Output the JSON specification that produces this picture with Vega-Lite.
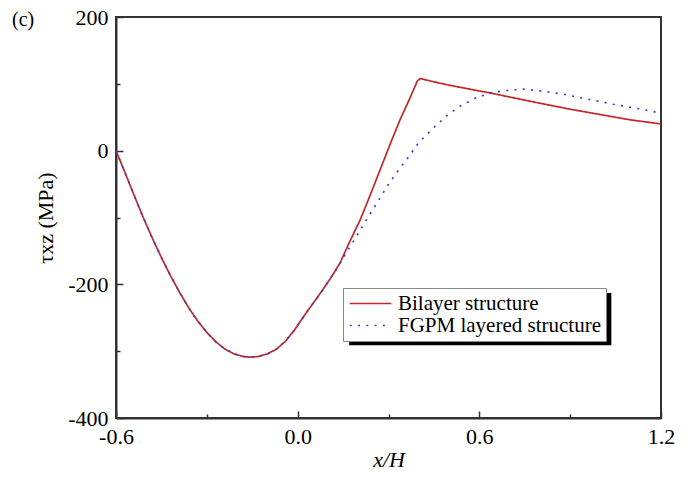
{
  "$schema": "https://vega.github.io/schema/vega-lite/v6.json",
  "width": 545,
  "height": 401,
  "autosize": "none",
  "padding": {"left": 116, "top": 17, "right": 30, "bottom": 59},
  "background": "white",
  "title": {"text": "(c)", "anchor": "start", "frame": "group", "orient": "top", "offset": 0, "dx": -104, "dy": 40, "baseline": "alphabetic", "font": "Liberation Serif", "fontSize": 20, "fontWeight": "normal", "color": "black"},
  "config": {"view": {"stroke": "#333", "strokeWidth": 2}, "axis": {"grid": false}},
  "layer": [
    {
      "data": {"values": [{"k": "shadow"}]},
      "mark": {"type": "rect", "color": "black"},
      "encoding": {
        "x": {"datum": 0.17, "type": "quantitative"},
        "x2": {"datum": 1.036},
        "y": {"datum": -213, "type": "quantitative"},
        "y2": {"datum": -291}
      }
    },
    {
      "data": {"values": [
        {"s": "Bilayer structure", "x": -0.6, "y": 0},
        {"s": "Bilayer structure", "x": -0.57, "y": -33},
        {"s": "Bilayer structure", "x": -0.54, "y": -67},
        {"s": "Bilayer structure", "x": -0.51, "y": -100},
        {"s": "Bilayer structure", "x": -0.48, "y": -131},
        {"s": "Bilayer structure", "x": -0.45, "y": -160},
        {"s": "Bilayer structure", "x": -0.42, "y": -187},
        {"s": "Bilayer structure", "x": -0.39, "y": -212},
        {"s": "Bilayer structure", "x": -0.36, "y": -235},
        {"s": "Bilayer structure", "x": -0.33, "y": -255},
        {"s": "Bilayer structure", "x": -0.30, "y": -272},
        {"s": "Bilayer structure", "x": -0.27, "y": -286},
        {"s": "Bilayer structure", "x": -0.24, "y": -297},
        {"s": "Bilayer structure", "x": -0.21, "y": -304},
        {"s": "Bilayer structure", "x": -0.18, "y": -308},
        {"s": "Bilayer structure", "x": -0.157, "y": -309},
        {"s": "Bilayer structure", "x": -0.13, "y": -308},
        {"s": "Bilayer structure", "x": -0.10, "y": -304},
        {"s": "Bilayer structure", "x": -0.07, "y": -297},
        {"s": "Bilayer structure", "x": -0.04, "y": -285},
        {"s": "Bilayer structure", "x": -0.01, "y": -268},
        {"s": "Bilayer structure", "x": 0.02, "y": -248},
        {"s": "Bilayer structure", "x": 0.05, "y": -229},
        {"s": "Bilayer structure", "x": 0.08, "y": -210},
        {"s": "Bilayer structure", "x": 0.11, "y": -190},
        {"s": "Bilayer structure", "x": 0.14, "y": -168},
        {"s": "Bilayer structure", "x": 0.17, "y": -138},
        {"s": "Bilayer structure", "x": 0.206, "y": -104},
        {"s": "Bilayer structure", "x": 0.24, "y": -66},
        {"s": "Bilayer structure", "x": 0.272, "y": -29},
        {"s": "Bilayer structure", "x": 0.31, "y": 15},
        {"s": "Bilayer structure", "x": 0.338, "y": 46},
        {"s": "Bilayer structure", "x": 0.37, "y": 78},
        {"s": "Bilayer structure", "x": 0.395, "y": 104},
        {"s": "Bilayer structure", "x": 0.405, "y": 108},
        {"s": "Bilayer structure", "x": 0.45, "y": 103},
        {"s": "Bilayer structure", "x": 0.50, "y": 98},
        {"s": "Bilayer structure", "x": 0.558, "y": 93},
        {"s": "Bilayer structure", "x": 0.65, "y": 85},
        {"s": "Bilayer structure", "x": 0.778, "y": 73},
        {"s": "Bilayer structure", "x": 0.90, "y": 62},
        {"s": "Bilayer structure", "x": 1.0, "y": 54},
        {"s": "Bilayer structure", "x": 1.1, "y": 46},
        {"s": "Bilayer structure", "x": 1.2, "y": 40},
        {"s": "FGPM layered structure", "x": -0.6, "y": 0},
        {"s": "FGPM layered structure", "x": -0.57, "y": -33},
        {"s": "FGPM layered structure", "x": -0.54, "y": -67},
        {"s": "FGPM layered structure", "x": -0.51, "y": -100},
        {"s": "FGPM layered structure", "x": -0.48, "y": -131},
        {"s": "FGPM layered structure", "x": -0.45, "y": -160},
        {"s": "FGPM layered structure", "x": -0.42, "y": -187},
        {"s": "FGPM layered structure", "x": -0.39, "y": -212},
        {"s": "FGPM layered structure", "x": -0.36, "y": -235},
        {"s": "FGPM layered structure", "x": -0.33, "y": -255},
        {"s": "FGPM layered structure", "x": -0.30, "y": -272},
        {"s": "FGPM layered structure", "x": -0.27, "y": -286},
        {"s": "FGPM layered structure", "x": -0.24, "y": -297},
        {"s": "FGPM layered structure", "x": -0.21, "y": -304},
        {"s": "FGPM layered structure", "x": -0.18, "y": -308},
        {"s": "FGPM layered structure", "x": -0.157, "y": -309},
        {"s": "FGPM layered structure", "x": -0.13, "y": -308},
        {"s": "FGPM layered structure", "x": -0.10, "y": -304},
        {"s": "FGPM layered structure", "x": -0.07, "y": -297},
        {"s": "FGPM layered structure", "x": -0.04, "y": -285},
        {"s": "FGPM layered structure", "x": -0.01, "y": -268},
        {"s": "FGPM layered structure", "x": 0.02, "y": -248},
        {"s": "FGPM layered structure", "x": 0.05, "y": -229},
        {"s": "FGPM layered structure", "x": 0.079, "y": -211},
        {"s": "FGPM layered structure", "x": 0.105, "y": -193},
        {"s": "FGPM layered structure", "x": 0.132, "y": -175},
        {"s": "FGPM layered structure", "x": 0.155, "y": -157},
        {"s": "FGPM layered structure", "x": 0.181, "y": -138},
        {"s": "FGPM layered structure", "x": 0.205, "y": -120},
        {"s": "FGPM layered structure", "x": 0.233, "y": -99},
        {"s": "FGPM layered structure", "x": 0.265, "y": -76},
        {"s": "FGPM layered structure", "x": 0.299, "y": -51},
        {"s": "FGPM layered structure", "x": 0.33, "y": -31},
        {"s": "FGPM layered structure", "x": 0.36, "y": -13},
        {"s": "FGPM layered structure", "x": 0.398, "y": 11},
        {"s": "FGPM layered structure", "x": 0.426, "y": 24},
        {"s": "FGPM layered structure", "x": 0.446, "y": 33},
        {"s": "FGPM layered structure", "x": 0.492, "y": 52},
        {"s": "FGPM layered structure", "x": 0.534, "y": 66},
        {"s": "FGPM layered structure", "x": 0.589, "y": 79},
        {"s": "FGPM layered structure", "x": 0.641, "y": 87},
        {"s": "FGPM layered structure", "x": 0.69, "y": 90},
        {"s": "FGPM layered structure", "x": 0.745, "y": 92},
        {"s": "FGPM layered structure", "x": 0.80, "y": 89.5},
        {"s": "FGPM layered structure", "x": 0.877, "y": 84.5},
        {"s": "FGPM layered structure", "x": 0.96, "y": 77},
        {"s": "FGPM layered structure", "x": 1.042, "y": 69.5},
        {"s": "FGPM layered structure", "x": 1.119, "y": 63.5},
        {"s": "FGPM layered structure", "x": 1.174, "y": 58.5},
        {"s": "FGPM layered structure", "x": 1.2, "y": 56}
      ]},
      "mark": {"type": "line", "strokeWidth": 1.7, "strokeCap": "butt"},
      "encoding": {
        "x": {
          "field": "x", "type": "quantitative",
          "scale": {"domain": [-0.6, 1.2], "nice": false, "zero": false},
          "axis": {
            "values": [-0.6, -0.3, 0, 0.3, 0.6, 0.9, 1.2],
            "labelExpr": "abs(round(datum.value*10)) % 6 == 0 ? replace(format(datum.value, '.1f'), '−', '-') : ''",
            "tickSize": {"condition": {"test": "abs(round(datum.value*10)) % 6 == 0", "value": -7}, "value": -4},
            "tickColor": "#333", "tickWidth": 1.5,
            "domainColor": "#333", "domainWidth": 2,
            "labelFont": "Liberation Serif", "labelFontSize": 22, "labelColor": "black",
            "labelPadding": 15, "labelFlush": false,
            "title": "x/H", "titleFont": "Liberation Serif", "titleFontStyle": "italic", "titleFontSize": 22,
            "titleFontWeight": "normal", "titleColor": "black", "titlePadding": 2
          }
        },
        "y": {
          "field": "y", "type": "quantitative",
          "scale": {"domain": [-400, 200], "nice": false, "zero": false},
          "axis": {
            "values": [-400, -300, -200, -100, 0, 100, 200],
            "labelExpr": "datum.value % 200 == 0 ? '' + datum.value : ''",
            "tickSize": {"condition": {"test": "datum.value % 200 == 0", "value": -7}, "value": -4},
            "tickColor": "#333", "tickWidth": 1.5,
            "domainColor": "#333", "domainWidth": 2,
            "labelFont": "Liberation Serif", "labelFontSize": 22, "labelColor": "black",
            "labelPadding": 15, "labelFlush": false,
            "title": "τxz (MPa)", "titleFont": "Liberation Serif", "titleFontSize": 22,
            "titleFontWeight": "normal", "titleColor": "black", "titlePadding": 10
          }
        },
        "color": {
          "field": "s", "type": "nominal",
          "scale": {"domain": ["Bilayer structure", "FGPM layered structure"], "range": ["#c0282a", "#3b3bd6"]},
          "legend": {
            "title": null, "orient": "none", "legendX": 227, "legendY": 271,
            "symbolType": "M-2.4,0H2.4", "symbolSize": 300, "symbolStrokeWidth": 1.6,
            "symbolOffset": 12,
            "labelFont": "Liberation Serif", "labelFontSize": 21, "labelColor": "black",
            "labelOffset": 17, "labelLimit": 400,
            "fillColor": "white", "strokeColor": "#888", "padding": 5, "rowPadding": 0
          }
        },
        "strokeDash": {
          "field": "s", "type": "nominal",
          "scale": {"domain": ["Bilayer structure", "FGPM layered structure"], "range": [[1, 0], [2, 6.3]]}
        }
      }
    }
  ]
}
